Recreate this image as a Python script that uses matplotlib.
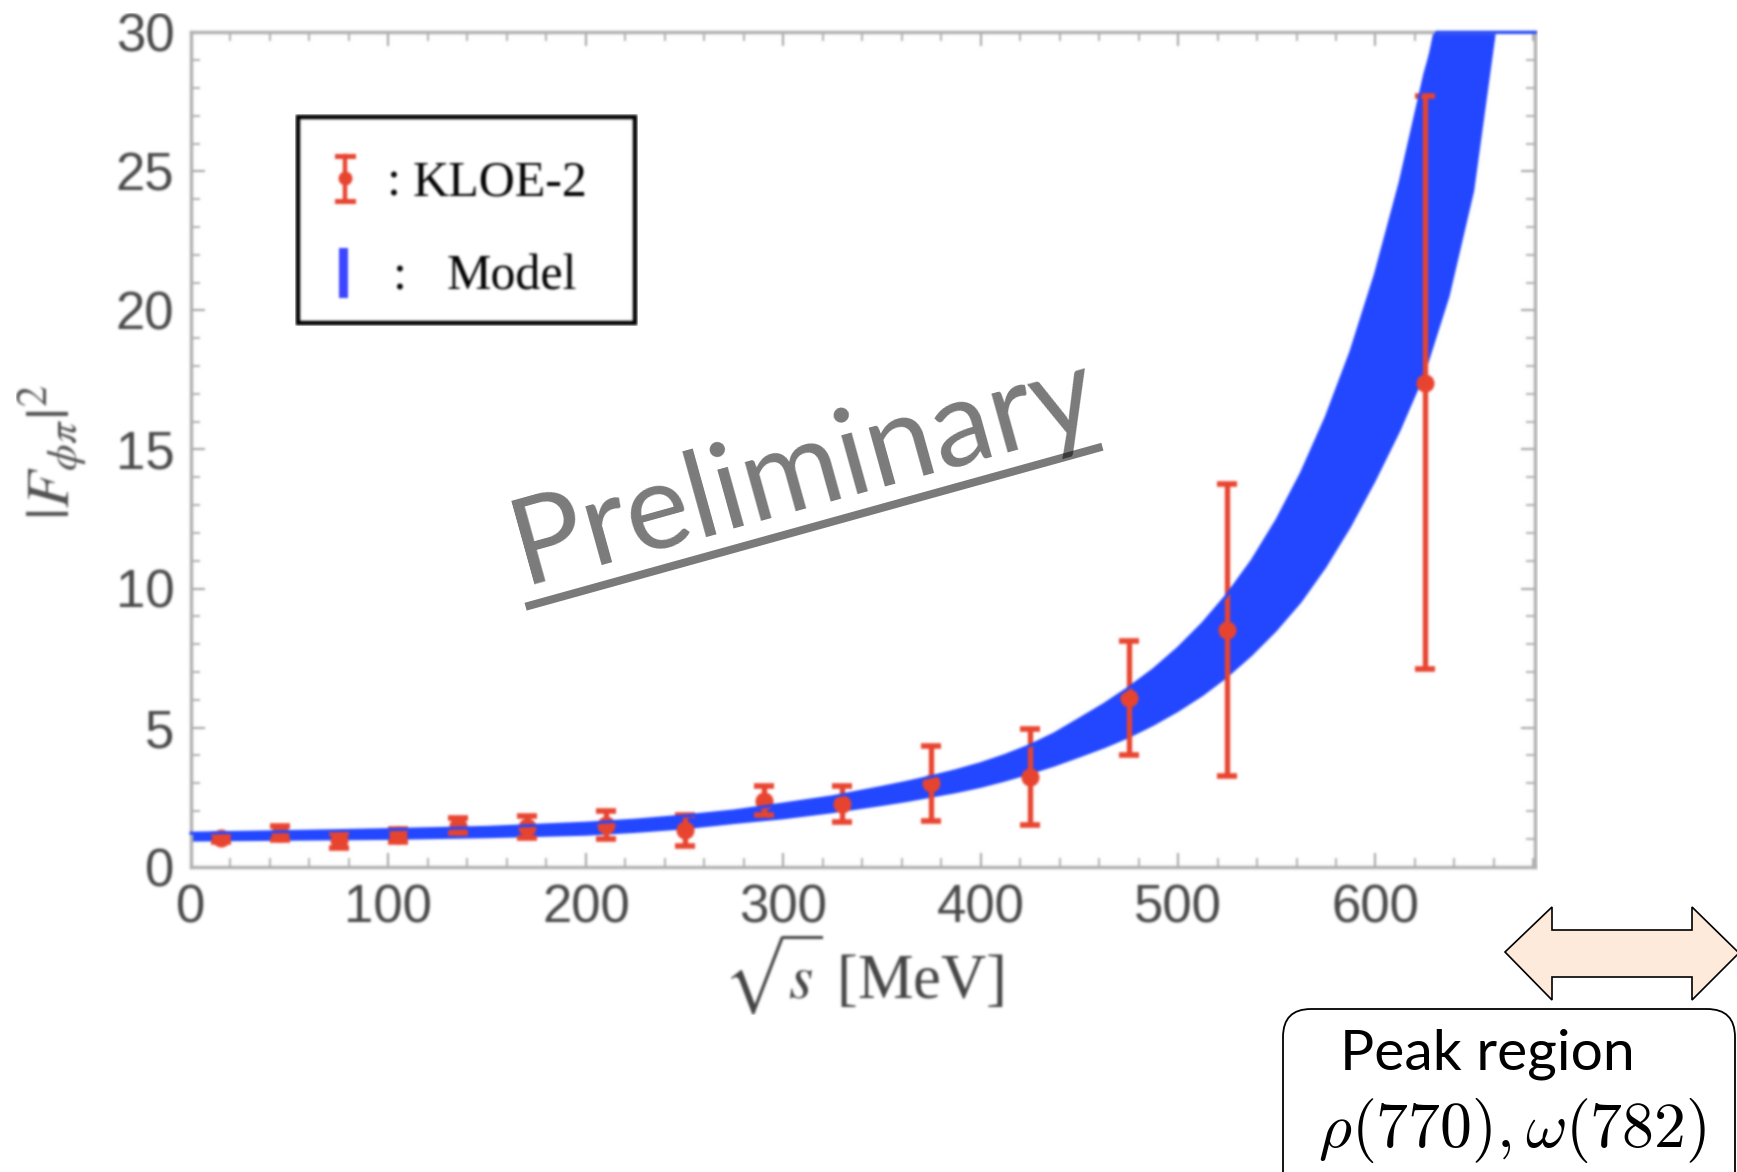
import numpy as np
import matplotlib
matplotlib.use("Agg")
import matplotlib.pyplot as plt
from matplotlib.patches import Rectangle, Polygon, FancyBboxPatch
from matplotlib.lines import Line2D
from matplotlib.ticker import MultipleLocator

# ---- data -------------------------------------------------------------
# KLOE-2 points: sqrt(s) [MeV], |F|^2 and symmetric errors
kloe_x = [15, 45, 75, 105, 135, 170, 210, 250, 290, 330, 375, 425, 475, 525, 625]
kloe_y = [1.04, 1.22, 0.95, 1.12, 1.47, 1.42, 1.50, 1.30, 2.37, 2.26, 2.99, 3.23, 6.07, 8.50, 17.4]
kloe_err = [0.15, 0.25, 0.27, 0.24, 0.27, 0.40, 0.50, 0.56, 0.52, 0.65, 1.35, 1.72, 2.06, 5.26, 10.3]

# model band: upper edge
band_up_x = [0, 50, 100, 150, 200, 225, 250, 275, 300, 325, 350, 362.5, 375, 387.5, 400,
             412.5, 425, 437.5, 450, 462.5, 475, 487.5, 500, 512.5, 525, 537.5, 550,
             562.5, 575, 587.5, 600, 612.5, 625, 631, 640, 660, 681]
band_up_y = [1.20, 1.26, 1.33, 1.41, 1.56, 1.67, 1.82, 2.00, 2.25, 2.51, 2.85, 3.03, 3.23,
             3.45, 3.70, 4.00, 4.35, 4.78, 5.30, 5.83, 6.42, 7.08, 7.85, 8.74, 9.78, 11.0,
             12.45, 14.15, 16.15, 18.5, 21.3, 24.6, 28.5, 30.6, 35.0, 45.0, 60.0]
# model band: lower edge
band_lo_x = [0, 50, 100, 150, 200, 225, 250, 275, 300, 325, 350, 362.5, 375, 387.5, 400,
             412.5, 425, 437.5, 450, 462.5, 475, 487.5, 500, 512.5, 525, 537.5, 550,
             562.5, 575, 587.5, 600, 612.5, 625, 637.5, 650, 661, 670, 681]
band_lo_y = [0.90, 0.93, 0.96, 1.02, 1.11, 1.21, 1.34, 1.53, 1.70, 1.92, 2.18, 2.32, 2.48,
             2.64, 2.83, 3.06, 3.32, 3.60, 3.92, 4.25, 4.62, 5.06, 5.56, 6.13, 6.80, 7.58,
             8.47, 9.50, 10.75, 12.2, 13.85, 15.65, 17.7, 20.5, 24.3, 30.0, 35.0, 43.0]

x_ticks = [0, 100, 200, 300, 400, 500, 600]
y_ticks = [0, 5, 10, 15, 20, 25, 30]

# ---- style -------------------------------------------------------------
W, H = 1737, 1172
BLUE = "#2246ff"
RED = "#e8432e"
GREY_TXT = "#484848"
FRAME = "#b0b0b0"

plt.rcParams["font.family"] = ["Liberation Sans", "DejaVu Sans"]
plt.rcParams["mathtext.fontset"] = "stix"


def soften(im, dpi, sigma=1.2):
    """Gaussian blur used as an agg filter (premultiplied alpha)."""
    pad = 4
    ny, nx, _ = im.shape
    buf = np.zeros((ny + 2 * pad, nx + 2 * pad, 4))
    buf[pad:pad + ny, pad:pad + nx] = im
    buf[..., :3] *= buf[..., 3:4]
    k = np.exp(-0.5 * (np.arange(-pad, pad + 1) / sigma) ** 2)
    k /= k.sum()
    tmp = np.zeros_like(buf)
    for i, w in enumerate(k):
        tmp[:, pad:buf.shape[1] - pad] += w * buf[:, i:i + buf.shape[1] - 2 * pad]
    out = np.zeros_like(buf)
    for i, w in enumerate(k):
        out[pad:buf.shape[0] - pad] += w * tmp[i:i + buf.shape[0] - 2 * pad]
    a = out[..., 3:4]
    out[..., :3] = np.where(a > 1e-6, out[..., :3] / np.maximum(a, 1e-6), 0)
    return np.clip(out, 0, 1), -pad, -pad


fig = plt.figure(figsize=(W / 100, H / 100), dpi=100)
ax = fig.add_axes([191 / W, 1 - 866.6 / H, (1535.4 - 191) / W, (866.6 - 32.3) / H])
ax.set_agg_filter(soften)

# band
bx = np.concatenate([band_up_x, band_lo_x[::-1]])
by = np.concatenate([band_up_y, band_lo_y[::-1]])
ax.fill(bx, by, color=BLUE, lw=0, zorder=2)
ax.plot(band_up_x, np.minimum(band_up_y, 30), color=BLUE, lw=2.2, zorder=6, clip_on=False)

# data
ax.errorbar(kloe_x, kloe_y, yerr=kloe_err, fmt="o", color=RED, ms=12, elinewidth=3.8,
            capsize=7.5, capthick=4.0, zorder=4)

ax.set_xlim(0, 681)
ax.set_ylim(0, 30)
ax.set_xticks(x_ticks)
ax.set_yticks(y_ticks)
ax.xaxis.set_minor_locator(MultipleLocator(20))
ax.yaxis.set_minor_locator(MultipleLocator(1))
ax.tick_params(which="both", direction="in", top=True, right=True, color="#999999",
               labelsize=38, labelcolor=GREY_TXT, pad=12)
ax.tick_params(which="major", length=10, width=1.3)
ax.tick_params(which="minor", length=6.5, width=1.1)
for s in ax.spines.values():
    s.set_color(FRAME)
    s.set_linewidth(2.4)

ax.set_xlabel(r"$\sqrt{s}$ [MeV]", fontsize=45, color="#454545",
              family=["Liberation Serif"], va="baseline")
ax.xaxis.set_label_coords(0.5, -(999 - 866.6) / (866.6 - 32.3))
ax.set_ylabel(r"$|F_{\phi\pi}|^2$", fontsize=44, color="#505050", va="center")
ax.yaxis.set_label_coords((53 - 191) / (1535.4 - 191), 0.5 + (449.5 - 452) / (866.6 - 32.3))

# ---- overlays in pixel units -----------------------------------------
def pixel_axes(z, soft=False):
    a = fig.add_axes([0, 0, 1, 1], facecolor="none", zorder=z)
    a.set_xlim(0, W)
    a.set_ylim(H, 0)
    a.axis("off")
    if soft:
        a.set_agg_filter(soften)
    return a


lg = pixel_axes(9, soft=True)
# legend box
lg.add_patch(Rectangle((298, 117), 337, 206, fill=False, ec="black", lw=3.2))
lg.add_line(Line2D([345, 345], [156, 201], color=RED, lw=3.2))
lg.add_line(Line2D([337, 353], [156, 156], color=RED, lw=3.6))
lg.add_line(Line2D([337, 353], [201, 201], color=RED, lw=3.6))
lg.add_line(Line2D([345], [178], color=RED, marker="o", ms=9))
lg.add_patch(Rectangle((339, 248), 9, 50, color="#3b45ff", lw=0))
serif = ["Liberation Serif"]
lg.text(387, 195, ":", fontsize=36, family=serif, va="baseline", ha="left")
lg.text(413, 195, "KLOE-2", fontsize=36, family=serif, va="baseline", ha="left")
lg.text(393, 290, ":", fontsize=36, family=serif, va="baseline", ha="left")
lg.text(447, 290, "Model", fontsize=36, family=serif, va="baseline", ha="left")

ov = pixel_axes(10)
# watermark
ov.text(523, 584, "Preliminary", fontsize=87, family=["Lato"], color="black", alpha=0.52,
        rotation=15.5, rotation_mode="anchor", ha="left", va="baseline")
ov.add_line(Line2D([525.6, 1102.4], [606.7, 446.7], color="black", alpha=0.52, lw=5.8,
                   solid_capstyle="butt"))

# peak-region annotation
ov.add_patch(Polygon([(1505, 952), (1552, 907), (1552, 930), (1692, 930), (1692, 907),
                      (1739, 953), (1692, 1000), (1692, 977), (1552, 977), (1552, 1000)],
                     closed=True, fc="#fdeadb", ec="black", lw=1.2))
ov.add_patch(FancyBboxPatch((1283, 1009), 452, 200,
                            boxstyle="round,pad=0,rounding_size=28",
                            fc="white", ec="black", lw=1.3))
ov.text(1340, 1070, "Peak region", fontsize=41, family=["Lato"], va="baseline", ha="left")
ov.text(1318, 1147, r"$\rho(770),\omega(782)$", fontsize=46, math_fontfamily="cm",
        va="baseline", ha="left")

fig.savefig("out.png", dpi=100)
